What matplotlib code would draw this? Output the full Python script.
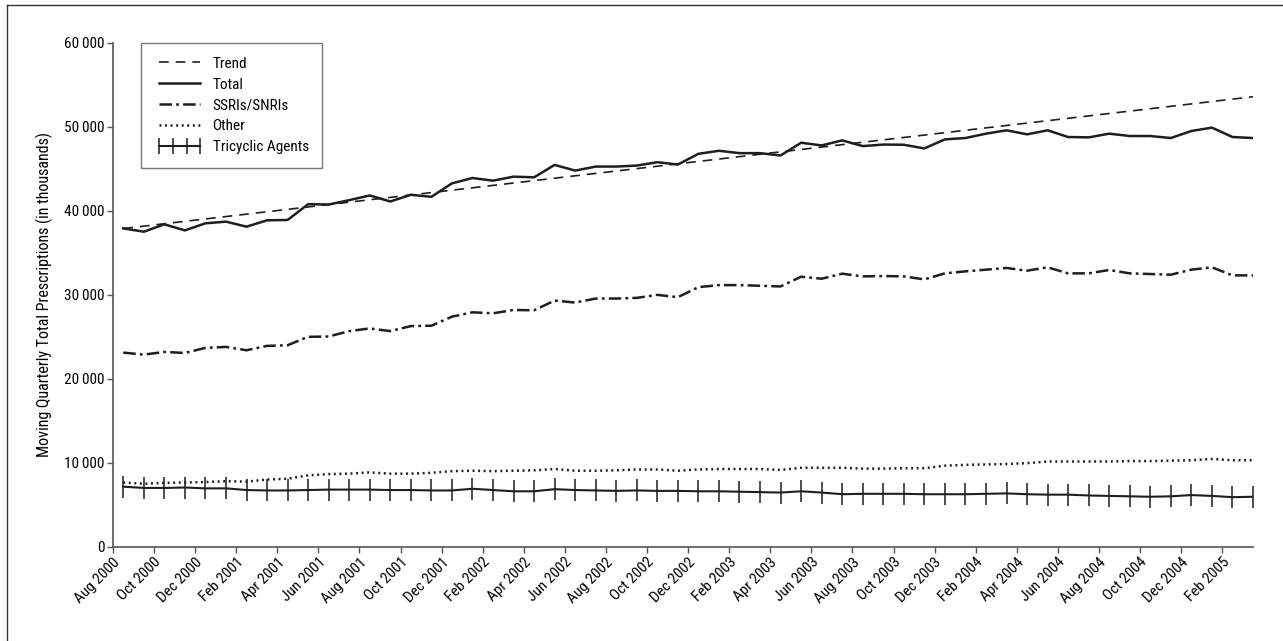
import matplotlib
matplotlib.use("Agg")
import matplotlib.pyplot as plt
from matplotlib.lines import Line2D
from matplotlib import font_manager as fm
import numpy as np

_avail = set(f.name for f in fm.fontManager.ttflist)
_pref = ['Liberation Sans Narrow', 'Nimbus Sans Narrow', 'Roboto Condensed',
         'Archivo Narrow', 'Barlow Semi Condensed', 'Liberation Sans']
_fam = [f for f in _pref if f in _avail][:1] + ['DejaVu Sans']
plt.rcParams['font.family'] = _fam
plt.rcParams['lines.scale_dashes'] = False

# ---- data (monthly points, x = months after Aug 2000) ----
total = [37920, 37520, 38400, 37680, 38520, 38720, 38120, 38880, 38920, 40800,
         40760, 41280, 41840, 41120, 41920, 41680, 43280, 43920, 43600, 44080,
         44000, 45480, 44800, 45280, 45280, 45400, 45800, 45520, 46800, 47160,
         46880, 46880, 46600, 48120, 47800, 48400, 47720, 47900, 47880, 47440,
         48520, 48680, 49200, 49600, 49120, 49600, 48800, 48760, 49200, 48920,
         48920, 48680, 49520, 49920, 48800, 48680]
ssri = [23120, 22880, 23200, 23080, 23680, 23800, 23400, 23920, 24000, 25000,
        25040, 25680, 26000, 25680, 26280, 26320, 27400, 27920, 27800, 28200,
        28160, 29320, 29080, 29560, 29560, 29640, 30000, 29720, 30920, 31160,
        31160, 31080, 31000, 32160, 31920, 32520, 32200, 32240, 32200, 31840,
        32560, 32800, 33000, 33200, 32880, 33280, 32560, 32560, 32960, 32560,
        32480, 32400, 33000, 33280, 32320, 32320]
other = [7650, 7500, 7600, 7650, 7700, 7800, 7750, 8000, 8100, 8500,
         8650, 8700, 8850, 8700, 8700, 8800, 9000, 9050, 9000, 9050,
         9100, 9250, 9050, 9050, 9100, 9200, 9200, 9050, 9200, 9250,
         9250, 9250, 9150, 9400, 9400, 9400, 9300, 9300, 9350, 9350,
         9650, 9750, 9800, 9850, 9950, 10150, 10150, 10150, 10150, 10200,
         10200, 10250, 10300, 10450, 10300, 10300]
tricyclic = [7150, 7000, 7000, 7050, 6950, 6950, 6750, 6700, 6700, 6750,
             6800, 6800, 6800, 6750, 6750, 6700, 6700, 6900, 6750, 6600,
             6600, 6850, 6750, 6700, 6650, 6700, 6650, 6650, 6600, 6600,
             6550, 6500, 6450, 6600, 6450, 6250, 6300, 6300, 6300, 6250,
             6250, 6250, 6300, 6350, 6250, 6200, 6200, 6100, 6050, 6000,
             5950, 6000, 6150, 6050, 5900, 5950]
trend_ends = [37900, 53600]

tick_labels = ['Aug 2000', 'Oct 2000', 'Dec 2000', 'Feb 2001', 'Apr 2001', 'Jun 2001',
               'Aug 2001', 'Oct 2001', 'Dec 2001', 'Feb 2002', 'Apr 2002', 'Jun 2002',
               'Aug 2002', 'Oct 2002', 'Dec 2002', 'Feb 2003', 'Apr 2003', 'Jun 2003',
               'Aug 2003', 'Oct 2003', 'Dec 2003', 'Feb 2004', 'Apr 2004', 'Jun 2004',
               'Aug 2004', 'Oct 2004', 'Dec 2004', 'Feb 2005']
y_ticks = [0, 10000, 20000, 30000, 40000, 50000, 60000]

x = np.arange(len(total)) + 0.5
tick_pos = np.arange(len(tick_labels)) * 2

fig = plt.figure(figsize=(12.83, 6.41), dpi=100)
ax = fig.add_axes([113 / 1283, 1 - 546.7 / 641, 1140 / 1283, (546.7 - 43) / 641])

col = '#1e1e1e'
ax.plot([x[0], x[-1]], trend_ends, color=col, lw=1.2, dashes=(7, 5), label='Trend')
ax.plot(x, total, color=col, lw=1.8, label='Total')
ax.plot(x, ssri, color=col, lw=1.8, dashes=(9, 3, 2, 3), label='SSRIs/SNRIs')
ax.plot(x, other, color=col, lw=1.8, dashes=(1.4, 2.6), label='Other')
ax.plot(x, tricyclic, color=col, lw=1.5, marker='|', markersize=16,
        markeredgewidth=1.1, label='Tricyclic Agents')

ax.set_xlim(0, 55.5)
ax.set_ylim(0, 60000)
ax.set_xticks(tick_pos)
ax.set_xticklabels(tick_labels, rotation=45, ha='right', va='top',
                   rotation_mode='anchor', fontsize=11)
ax.set_yticks(y_ticks)
ax.set_yticklabels([f"{v:,}".replace(",", "\u2009") for v in y_ticks], fontsize=11)
ax.tick_params(axis='both', direction='out', length=4, width=1, color='#555555', pad=2)
ax.set_ylabel('Moving Quarterly Total Prescriptions (in thousands)', fontsize=11.5, labelpad=8)

for s in ['top', 'right']:
    ax.spines[s].set_visible(False)
for s in ['left', 'bottom']:
    ax.spines[s].set_color('#555555')
    ax.spines[s].set_linewidth(1.2)

leg = ax.legend(loc='upper left', bbox_to_anchor=(0.0243, 1.0), borderaxespad=0,
                fontsize=11, frameon=True, fancybox=False, edgecolor='#555555',
                handlelength=3.3, handletextpad=0.5, labelspacing=0.45,
                borderpad=0.9, numpoints=4)
leg.get_frame().set_linewidth(1.0)
leg.get_lines()[4].set_markersize(11)

# partial outer frame (top and left visible in reference)
fig.add_artist(Line2D([7 / 1283, 7 / 1283], [0, 1 - 5 / 641], transform=fig.transFigure,
                      color='#333333', lw=1.0))
fig.add_artist(Line2D([7 / 1283, 1], [1 - 5 / 641, 1 - 5 / 641], transform=fig.transFigure,
                      color='#333333', lw=1.0))

fig.savefig('out.png', dpi=100)
